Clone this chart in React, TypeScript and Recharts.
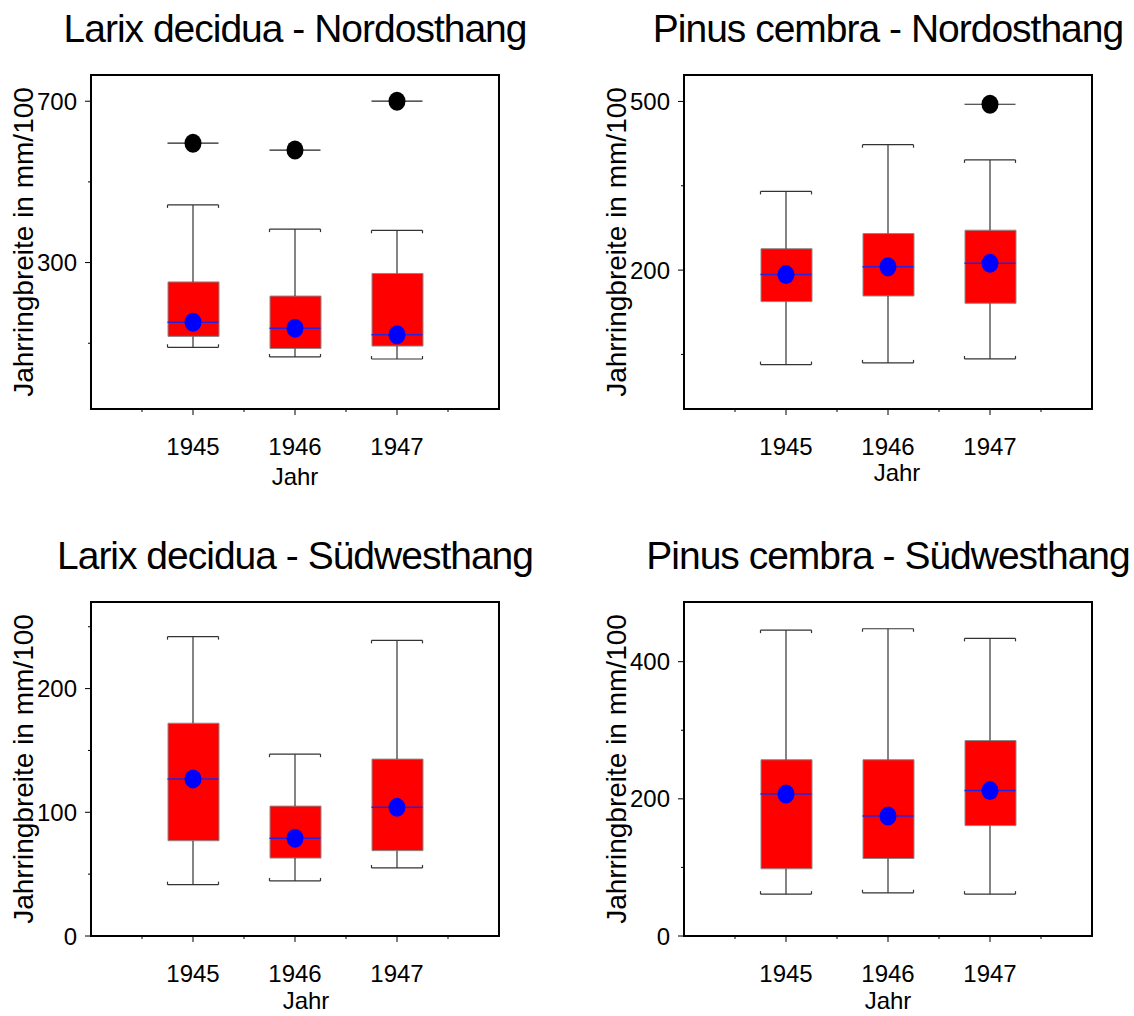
import React from "react";
import {
  Bar,
  ComposedChart,
  ErrorBar,
  Label,
  ReferenceArea,
  Scatter,
  XAxis,
  YAxis,
} from "recharts";

const YEARS = [1945, 1946, 1947];
const X_DOMAIN = [1944, 1948];
const X_TICKS = [1944.5, 1945, 1945.5, 1946, 1946.5, 1947, 1947.5];

// Larix decidua - Nordosthang
const LARIX_NO_LOW = [90, 66, 61];
const LARIX_NO_Q1 = [117, 87, 93];
const LARIX_NO_MEDIAN = [152, 137, 121];
const LARIX_NO_Q3 = [252, 217, 273];
const LARIX_NO_HIGH = [443, 383, 380];
const LARIX_NO_OUTLIER = [596, 579, 700];
const LARIX_NO_DOMAIN = [-63, 765];
const LARIX_NO_TICKS = [100, 300, 500, 700];
const LARIX_NO_LABELS = [300, 700];

// Pinus cembra - Nordosthang
const PINUS_NO_LOW = [32, 35, 42];
const PINUS_NO_Q1 = [144, 154, 141];
const PINUS_NO_MEDIAN = [192, 206, 212];
const PINUS_NO_Q3 = [238, 265, 271];
const PINUS_NO_HIGH = [340, 423, 396];
const PINUS_NO_OUTLIER = [null, null, 495];
const PINUS_NO_DOMAIN = [-47, 547];
const PINUS_NO_TICKS = [50, 200, 350, 500];
const PINUS_NO_LABELS = [200, 500];

// Larix decidua - Südwesthang
const LARIX_SW_LOW = [41.5, 44.5, 55];
const LARIX_SW_Q1 = [77, 63, 69];
const LARIX_SW_MEDIAN = [127, 79, 104];
const LARIX_SW_Q3 = [172, 105, 143];
const LARIX_SW_HIGH = [242, 147, 239];
const LARIX_SW_DOMAIN = [0, 270];
const LARIX_SW_TICKS = [0, 50, 100, 150, 200, 250];
const LARIX_SW_LABELS = [0, 100, 200];

// Pinus cembra - Südwesthang
const PINUS_SW_LOW = [61, 63, 61];
const PINUS_SW_Q1 = [98, 113, 161];
const PINUS_SW_MEDIAN = [207, 175, 212];
const PINUS_SW_Q3 = [257, 257, 285];
const PINUS_SW_HIGH = [446, 448, 434];
const PINUS_SW_DOMAIN = [0, 487];
const PINUS_SW_TICKS = [0, 100, 200, 300, 400];
const PINUS_SW_LABELS = [0, 200, 400];

const FONT = '"Liberation Sans", Arial, Helvetica, sans-serif';
const BOX_WIDTH = 51;
const HALF = BOX_WIDTH / 2;

const Hidden = () => <g />;

const MedianMarker = (props: any) => {
  const { cx, cy } = props;
  return (
    <g>
      <line x1={cx - HALF} x2={cx + HALF} y1={cy} y2={cy} stroke="#2424e0" strokeWidth={1.5} />
      <ellipse cx={cx} cy={cy} rx={8.5} ry={9.5} fill="#0000ff" />
    </g>
  );
};

const OutlierMarker = (props: any) => {
  const { cx, cy } = props;
  return (
    <g>
      <line x1={cx - HALF} x2={cx + HALF} y1={cy} y2={cy} stroke="#222" strokeWidth={1.2} />
      <ellipse cx={cx} cy={cy} rx={8.5} ry={9.5} fill="#000" />
    </g>
  );
};

// whisker cap, small end ticks point toward the box
const makeCap = (dir: number) => (props: any) => {
  const { cx, cy } = props;
  return (
    <g stroke="#333" strokeWidth={1.2}>
      <line x1={cx - HALF} x2={cx + HALF} y1={cy} y2={cy} />
      <line x1={cx - HALF} x2={cx - HALF} y1={cy} y2={cy + dir * 3} />
      <line x1={cx + HALF} x2={cx + HALF} y1={cy} y2={cy + dir * 3} />
    </g>
  );
};
const LowCap = makeCap(-1);
const HighCap = makeCap(1);

const XTick = (props: any) => {
  const { x, y, payload } = props;
  const major = Number.isInteger(payload.value);
  return (
    <g>
      <line x1={x} x2={x} y1={y} y2={y + (major ? 6 : 3)} stroke="#000" />
      {major ? (
        <text x={x} y={y + 46} textAnchor="middle" fontSize={24} fill="#000">
          {payload.value}
        </text>
      ) : null}
    </g>
  );
};

const makeYTick = (labels: number[]) => (props: any) => {
  const { x, y, payload } = props;
  const major = labels.includes(payload.value);
  return (
    <g>
      <line x1={x - (major ? 6 : 3)} x2={x} y1={y} y2={y} stroke="#000" />
      {major ? (
        <text x={x - 14} y={y + 8.5} textAnchor="end" fontSize={24} fill="#000">
          {payload.value}
        </text>
      ) : null}
    </g>
  );
};

type PanelProps = {
  title: string;
  low: number[];
  q1: number[];
  median: number[];
  q3: number[];
  high: number[];
  outlier?: (number | null)[];
  domain: number[];
  ticks: number[];
  labels: number[];
  left: number;
  top: number;
  width: number;
  marginTop: number;
  marginRight: number;
  jahrDx: number;
  jahrDy: number;
};

function BoxPanel(p: PanelProps) {
  const rows = YEARS.map((year, i) => ({
    year,
    low: p.low[i],
    q1: p.q1[i],
    median: p.median[i],
    q3: p.q3[i],
    high: p.high[i],
    box: [p.q1[i], p.q3[i]],
    lowerWhisker: [p.q1[i] - p.low[i], 0],
    upperWhisker: [0, p.high[i] - p.q3[i]],
    outlier: p.outlier ? p.outlier[i] : null,
  }));
  const outliers = rows.filter((r) => r.outlier != null);
  const plotCenter = p.left + 91 + 204;

  return (
    <>
      <div
        style={{
          position: "absolute",
          left: plotCenter - 300,
          top: p.top + p.marginTop - 66,
          width: 600,
          textAlign: "center",
          fontSize: 39,
          lineHeight: "39px",
          letterSpacing: -1,
          whiteSpace: "nowrap",
        }}
      >
        {p.title}
      </div>
      <div style={{ position: "absolute", left: p.left, top: p.top }}>
        <ComposedChart
          width={p.width}
          height={508}
          data={rows}
          margin={{ top: p.marginTop, right: p.marginRight, bottom: 508 - p.marginTop - 334 - 80, left: 0 }}
        >
          <XAxis
            dataKey="year"
            type="number"
            domain={X_DOMAIN}
            ticks={X_TICKS}
            allowDataOverflow
            interval={0}
            height={80}
            tickSize={0}
            tickMargin={0}
            axisLine={false}
            tickLine={false}
            tick={XTick}
          >
            <Label
              content={(lp: any) => {
                const vb = lp.viewBox;
                return (
                  <text
                    x={vb.x + vb.width / 2 + p.jahrDx}
                    y={vb.y + p.jahrDy}
                    textAnchor="middle"
                    fontSize={24}
                    fill="#000"
                  >
                    Jahr
                  </text>
                );
              }}
            />
          </XAxis>
          <YAxis
            type="number"
            domain={p.domain}
            ticks={p.ticks}
            allowDataOverflow
            interval={0}
            width={91}
            tickSize={0}
            tickMargin={0}
            axisLine={false}
            tickLine={false}
            tick={makeYTick(p.labels)}
          >
            <Label
              content={(lp: any) => {
                const vb = lp.viewBox;
                const tx = vb.x + vb.width - 58;
                const ty = vb.y + vb.height / 2;
                return (
                  <text
                    x={tx}
                    y={ty}
                    transform={`rotate(-90 ${tx} ${ty})`}
                    textAnchor="middle"
                    fontSize={28}
                    fill="#000"
                  >
                    Jahrringbreite in mm/100
                  </text>
                );
              }}
            />
          </YAxis>
          <Bar
            dataKey="box"
            barSize={BOX_WIDTH}
            fill="#ff0000"
            stroke="#8a8a8a"
            strokeWidth={1}
            isAnimationActive={false}
          />
          <Scatter dataKey="q1" shape={Hidden} isAnimationActive={false}>
            <ErrorBar dataKey="lowerWhisker" direction="y" width={0} stroke="#333" strokeWidth={1.2} />
          </Scatter>
          <Scatter dataKey="q3" shape={Hidden} isAnimationActive={false}>
            <ErrorBar dataKey="upperWhisker" direction="y" width={0} stroke="#333" strokeWidth={1.2} />
          </Scatter>
          <Scatter dataKey="low" shape={LowCap} isAnimationActive={false} />
          <Scatter dataKey="high" shape={HighCap} isAnimationActive={false} />
          <Scatter dataKey="median" shape={MedianMarker} isAnimationActive={false} />
          {outliers.length > 0 ? (
            <Scatter data={outliers} dataKey="outlier" shape={OutlierMarker} isAnimationActive={false} />
          ) : null}
          <ReferenceArea
            x1={X_DOMAIN[0]}
            x2={X_DOMAIN[1]}
            y1={p.domain[0]}
            y2={p.domain[1]}
            fill="none"
            fillOpacity={0}
            stroke="#000"
            strokeWidth={2}
            ifOverflow="visible"
          />
        </ComposedChart>
      </div>
    </>
  );
}

export default function App() {
  return (
    <div
      style={{
        position: "absolute",
        left: 0,
        top: 0,
        width: 1134,
        height: 1016,
        background: "#fff",
        overflow: "hidden",
        fontFamily: FONT,
        color: "#000",
      }}
    >
      <BoxPanel
        title="Larix decidua - Nordosthang"
        low={LARIX_NO_LOW}
        q1={LARIX_NO_Q1}
        median={LARIX_NO_MEDIAN}
        q3={LARIX_NO_Q3}
        high={LARIX_NO_HIGH}
        outlier={LARIX_NO_OUTLIER}
        domain={LARIX_NO_DOMAIN}
        ticks={LARIX_NO_TICKS}
        labels={LARIX_NO_LABELS}
        left={0}
        top={0}
        width={567}
        marginTop={75}
        marginRight={68}
        jahrDx={0}
        jahrDy={76}
      />
      <BoxPanel
        title="Pinus cembra - Nordosthang"
        low={PINUS_NO_LOW}
        q1={PINUS_NO_Q1}
        median={PINUS_NO_MEDIAN}
        q3={PINUS_NO_Q3}
        high={PINUS_NO_HIGH}
        outlier={PINUS_NO_OUTLIER}
        domain={PINUS_NO_DOMAIN}
        ticks={PINUS_NO_TICKS}
        labels={PINUS_NO_LABELS}
        left={593}
        top={0}
        width={541}
        marginTop={75}
        marginRight={42}
        jahrDx={9}
        jahrDy={72}
      />
      <BoxPanel
        title="Larix decidua - Südwesthang"
        low={LARIX_SW_LOW}
        q1={LARIX_SW_Q1}
        median={LARIX_SW_MEDIAN}
        q3={LARIX_SW_Q3}
        high={LARIX_SW_HIGH}
        domain={LARIX_SW_DOMAIN}
        ticks={LARIX_SW_TICKS}
        labels={LARIX_SW_LABELS}
        left={0}
        top={508}
        width={567}
        marginTop={94}
        marginRight={68}
        jahrDx={11}
        jahrDy={73}
      />
      <BoxPanel
        title="Pinus cembra - Südwesthang"
        low={PINUS_SW_LOW}
        q1={PINUS_SW_Q1}
        median={PINUS_SW_MEDIAN}
        q3={PINUS_SW_Q3}
        high={PINUS_SW_HIGH}
        domain={PINUS_SW_DOMAIN}
        ticks={PINUS_SW_TICKS}
        labels={PINUS_SW_LABELS}
        left={593}
        top={508}
        width={541}
        marginTop={94}
        marginRight={42}
        jahrDx={0}
        jahrDy={73}
      />
    </div>
  );
}
